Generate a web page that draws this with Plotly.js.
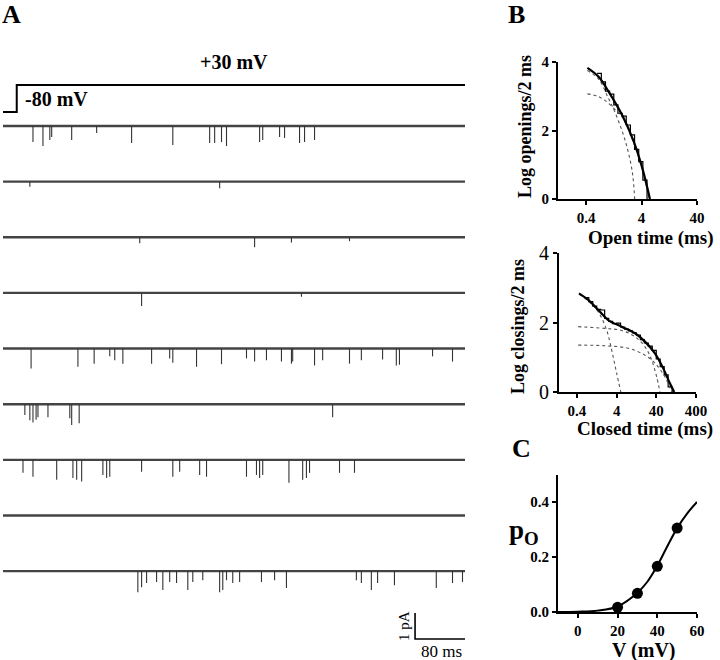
<!DOCTYPE html>
<html>
<head>
<meta charset="utf-8">
<script src="https://cdn.plot.ly/plotly-3.0.1.min.js"></script>
<style>html,body{margin:0;padding:0;background:#fff}</style>
</head>
<body>
<div id="fig" style="width:720px;height:660px"></div>
<script>
// --- A: single-channel sweeps (ms, pA) ---
const sweepDuration = 740;
const stepOnset = 22;
const holdingMv = -80;
const testMv = 30;
const sweepSpacing = 2.14;

const eventTimes = [
  [48, 64, 75, 78, 110, 150, 206, 272, 331, 339, 350, 358, 411, 416, 443, 451, 475, 483, 499],
  [43, 347],
  [219, 403, 462, 555],
  [222, 478],
  [45, 120, 146, 171, 179, 192, 238, 267, 272, 310, 350, 390, 403, 422, 446, 462, 464, 499, 512, 555, 574, 608, 630, 635, 688, 720],
  [35, 43, 48, 53, 56, 72, 107, 110, 122, 528],
  [32, 48, 86, 112, 118, 126, 160, 166, 171, 222, 272, 283, 315, 326, 390, 406, 411, 416, 458, 480, 486, 491, 539, 563],
  [],
  [216, 222, 230, 246, 256, 267, 278, 296, 304, 320, 347, 352, 358, 368, 379, 414, 435, 454, 566, 574, 590, 600, 627, 694, 720, 736]
];
const eventAmps = [
  [0.62, 0.77, 0.54, 0.42, 0.54, 0.27, 0.65, 0.73, 0.65, 0.65, 0.62, 0.77, 0.62, 0.54, 0.42, 0.46, 0.65, 0.62, 0.54],
  [0.2, 0.25],
  [0.23, 0.38, 0.2, 0.15],
  [0.5, 0.15],
  [0.77, 0.7, 0.58, 0.3, 0.45, 0.58, 0.58, 0.38, 0.55, 0.7, 0.6, 0.38, 0.5, 0.45, 0.5, 0.58, 0.5, 0.65, 0.45, 0.58, 0.45, 0.42, 0.65, 0.62, 0.3, 0.5],
  [0.42, 0.62, 0.7, 0.6, 0.5, 0.5, 0.54, 0.8, 0.73, 0.5],
  [0.5, 0.65, 0.77, 0.7, 0.77, 0.83, 0.58, 0.7, 0.65, 0.46, 0.65, 0.46, 0.58, 0.65, 0.65, 0.58, 0.7, 0.58, 0.88, 0.77, 0.7, 0.5, 0.5, 0.5],
  [],
  [0.81, 0.62, 0.46, 0.42, 0.73, 0.42, 0.46, 0.73, 0.42, 0.35, 0.81, 0.73, 0.35, 0.46, 0.42, 0.42, 0.35, 0.65, 0.35, 0.46, 0.73, 0.46, 0.54, 0.65, 0.46, 0.42]
];
const scaleBarMs = 80;
const scaleBarPa = 1;

// --- B top: open time histogram (ms, log count) ---
const openBinEdges = [0.631, 0.750, 0.891, 1.059, 1.259, 1.496, 1.778, 2.113, 2.512, 2.985, 3.548, 4.217, 5.012];
const openCounts = [3.67, 3.42, 3.15, 3.06, 2.75, 2.5, 2.42, 2.16, 1.87, 1.45, 1.09, 0.55];
const openFitX = [0.42, 0.67, 1.02, 1.78, 2.9, 4.12, 5.66];
const openFitY = [3.83, 3.57, 3.13, 2.45, 1.67, 0.9, 0];
const openFastX = [0.42, 0.67, 1.0, 1.35, 2.05, 2.71, 3.0];
const openFastY = [3.75, 3.5, 2.95, 2.5, 1.67, 0.8, 0];
const openSlowX = [0.42, 0.67, 1.02, 1.44, 1.78, 2.9, 4.12, 5.55];
const openSlowY = [3.07, 2.99, 2.79, 2.55, 2.4, 1.62, 0.86, 0];

// --- B bottom: closed time histogram ---
const closedBinEdges = [0.631, 0.794, 1.0, 1.259, 1.585, 1.995, 2.512, 3.162, 3.981, 5.012, 6.31, 7.943, 10, 12.59, 15.85, 19.95, 25.12, 31.62, 39.81, 50.12, 63.1, 79.43, 100];
const closedCounts = [2.72, 2.6, 2.47, 2.38, 2.36, 2.12, 2.03, 1.97, 1.98, 1.87, 1.81, 1.76, 1.7, 1.64, 1.51, 1.41, 1.32, 1.2, 0.95, 0.73, 0.49, 0.15];
const closedFitX = [0.45, 0.77, 1.38, 2.45, 5.35, 11.6, 20.7, 36.9, 59.7, 88, 113];
const closedFitY = [2.84, 2.65, 2.36, 2.07, 1.88, 1.69, 1.45, 1.11, 0.68, 0.25, 0];
const closedFastX = [0.45, 0.77, 1.38, 2.24, 2.99, 4.0, 5.1];
const closedFastY = [2.82, 2.62, 2.3, 1.78, 1.21, 0.54, 0];
const closedMidX = [0.43, 2.03, 5.35, 11.6, 20.7, 30.5, 40.7, 49.3];
const closedMidY = [1.88, 1.83, 1.77, 1.59, 1.3, 0.92, 0.44, 0];
const closedSlowX = [0.43, 2.03, 7.8, 20.7, 36.9, 65.8, 97];
const closedSlowY = [1.35, 1.33, 1.26, 1.06, 0.83, 0.44, 0];

// --- C: open probability vs voltage ---
const poVoltage = [20, 30, 40, 50];
const poValues = [0.017, 0.068, 0.166, 0.305];
const poFitV = [-10, 0, 10, 20, 30, 35, 40, 45, 50, 55, 60];
const poFitP = [0.0, 0.001, 0.005, 0.02, 0.07, 0.11, 0.168, 0.238, 0.305, 0.358, 0.4];

const serif = "Liberation Serif, Times New Roman, serif";
const W = 720, H = 660;
const px = v => v / W;
const py = v => 1 - v / H;

const traces = [];

// sweeps
eventTimes.forEach(function(times, i) {
  const base = -i * sweepSpacing;
  traces.push({
    x: [0, sweepDuration], y: [base, base],
    mode: "lines", line: {color: "#444", width: 2.4},
    xaxis: "x", yaxis: "y", hoverinfo: "skip"
  });
  const sx = [], sy = [];
  times.forEach(function(t, k) {
    sx.push(t, t, null);
    sy.push(base, base - eventAmps[i][k], null);
  });
  traces.push({
    x: sx, y: sy, mode: "lines", line: {color: "#333", width: 1.1},
    xaxis: "x", yaxis: "y", hoverinfo: "skip"
  });
});

// voltage command
traces.push({
  x: [0, stepOnset, stepOnset, sweepDuration],
  y: [holdingMv, holdingMv, testMv, testMv],
  mode: "lines", line: {color: "#000", width: 2},
  xaxis: "x", yaxis: "y2"
});

// scale bar
const sbY = -(639 - 126) / 26;
traces.push({
  x: [sweepDuration - scaleBarMs, sweepDuration - scaleBarMs, sweepDuration],
  y: [sbY + scaleBarPa, sbY, sbY],
  mode: "lines", line: {color: "#000", width: 1.6},
  xaxis: "x", yaxis: "y"
});

function stairs(edges, counts) {
  const x = [], y = [];
  counts.forEach(function(c, i) { x.push(edges[i]); y.push(c); });
  x.push(edges[edges.length - 1]); y.push(counts[counts.length - 1]);
  x.push(edges[edges.length - 1]); y.push(0);
  return {x: x, y: y};
}

function addHist(edges, counts, fits, dotted, ax, ay) {
  const s = stairs(edges, counts);
  traces.push({x: s.x, y: s.y, mode: "lines", line: {shape: "hv", color: "#000", width: 1.2}, xaxis: ax, yaxis: ay});
  dotted.forEach(function(d) {
    traces.push({x: d[0], y: d[1], mode: "lines", line: {shape: "spline", color: "#555", width: 1.1, dash: "dot"}, xaxis: ax, yaxis: ay});
  });
  traces.push({x: fits[0], y: fits[1], mode: "lines", line: {shape: "spline", color: "#000", width: 2.2}, xaxis: ax, yaxis: ay});
}

addHist(openBinEdges, openCounts, [openFitX, openFitY],
  [[openFastX, openFastY], [openSlowX, openSlowY]], "x3", "y3");
addHist(closedBinEdges, closedCounts, [closedFitX, closedFitY],
  [[closedFastX, closedFastY], [closedMidX, closedMidY], [closedSlowX, closedSlowY]], "x4", "y4");

traces.push({x: poFitV, y: poFitP, mode: "lines", line: {shape: "spline", color: "#000", width: 2}, xaxis: "x5", yaxis: "y5"});
traces.push({x: poVoltage, y: poValues, mode: "markers", marker: {color: "#000", size: 11}, xaxis: "x5", yaxis: "y5"});

const tickFont = {family: serif, size: 15, color: "#000", weight: "bold"};
function ax(extra) {
  return Object.assign({
    showline: true, linecolor: "#000", linewidth: 2,
    ticks: "outside", ticklen: 4, tickwidth: 2, tickcolor: "#000",
    showgrid: false, zeroline: false, tickfont: tickFont, fixedrange: true
  }, extra);
}

const aTop = (126 - 50) / 26, aBot = -(650 - 126) / 26;
const mvPerPx = (testMv - holdingMv) / 27;

const layout = {
  width: W, height: H,
  margin: {l: 0, r: 0, t: 0, b: 0},
  paper_bgcolor: "#fff", plot_bgcolor: "rgba(0,0,0,0)",
  showlegend: false,
  xaxis: {domain: [px(3), px(465)], range: [0, sweepDuration], visible: false},
  yaxis: {domain: [py(650), py(50)], range: [aBot, aTop], visible: false},
  yaxis2: {overlaying: "y", range: [holdingMv - (650 - 112) * mvPerPx, testMv + (85 - 50) * mvPerPx], visible: false},

  xaxis3: ax({anchor: "y3", domain: [px(558), px(697)], type: "log", range: [-0.907, 1.602],
    tickvals: [0.4, 4, 40], ticktext: ["0.4", "4", "40"]}),
  yaxis3: ax({anchor: "x3", domain: [py(199), py(62)], range: [0, 4], tickvals: [0, 2, 4]}),

  xaxis4: ax({anchor: "y4", domain: [px(559), px(696)], type: "log", range: [-0.851, 2.602],
    tickvals: [0.4, 4, 40, 400], ticktext: ["0.4", "4", "40", "400"]}),
  yaxis4: ax({anchor: "x4", domain: [py(392), py(253)], range: [0, 4], tickvals: [0, 2, 4],
    tickfont: {family: serif, size: 20, color: "#000"}}),

  xaxis5: ax({anchor: "y5", domain: [px(558), px(697)], range: [-10, 60], tickvals: [0, 20, 40, 60]}),
  yaxis5: ax({anchor: "x5", domain: [py(612), py(474.5)], range: [0, 0.5], tickvals: [0, 0.2, 0.4], tickformat: ".1f"}),

  annotations: []
};

function label(text, x, y, size, opts) {
  layout.annotations.push(Object.assign({
    text: text, xref: "paper", yref: "paper", x: px(x), y: py(y),
    xanchor: "center", yanchor: "middle", showarrow: false,
    font: {family: serif, size: size, color: "#000", weight: "bold"}
  }, opts || {}));
}

label("A", 11, 14, 26);
label("B", 516, 15, 26);
label("C", 521, 448, 26);
label("+30 mV", 234, 62, 20);
label("-80 mV", 23, 99, 20, {xanchor: "left"});
label("1 pA", 404, 626, 15, {textangle: -90, font: {family: serif, size: 15, color: "#000"}});
label("80 ms", 441, 651, 17, {font: {family: serif, size: 17, color: "#000"}});
label("Log openings/2 ms", 525, 127, 18, {textangle: -90});
label("Open time (ms)", 651, 238, 19);
label("Log closings/2 ms", 518, 327, 18, {textangle: -90});
label("Closed time (ms)", 645, 429, 19);
label("p<sub>O</sub>", 524, 532, 27);
label("V (mV)", 644, 650, 20);

Plotly.newPlot("fig", traces, layout, {staticPlot: true});
</script>
</body>
</html>
